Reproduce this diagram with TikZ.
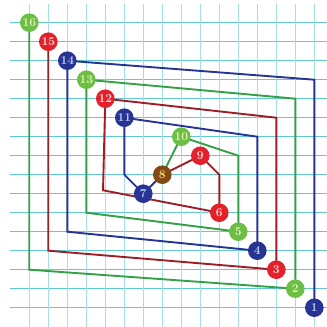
\documentclass[tikz,border=0pt]{standalone}
\usetikzlibrary{calc}
\definecolor{gridh}{RGB}{98,202,207}
\definecolor{gridv}{RGB}{165,224,230}
\definecolor{bl}{RGB}{40,52,148}
\definecolor{blt}{RGB}{190,205,240}
\definecolor{gnn}{RGB}{108,190,68}
\definecolor{gnt}{RGB}{232,242,185}
\definecolor{gnl}{RGB}{52,160,72}
\definecolor{rdn}{RGB}{228,32,42}
\definecolor{rdt}{RGB}{255,225,225}
\definecolor{rdl}{RGB}{158,30,40}
\definecolor{brn}{RGB}{130,72,22}
\definecolor{brt}{RGB}{242,222,110}
\tikzset{
  hline/.style={draw=gridh, line width=1.1pt},
  vline/.style={draw=gridv, line width=1.5pt},
  conn/.style={line width=1.9pt, line join=miter},
  num/.style={circle, inner sep=0pt, minimum size=18.6pt, font=\fontsize{12}{12}\selectfont\bfseries},
  bnode/.style={num, fill=bl, text=blt},
  gnode/.style={num, fill=gnn, text=gnt},
  rnode/.style={num, fill=rdn, text=rdt},
  knode/.style={num, fill=brn, text=brt},
}
\begin{document}
\begin{tikzpicture}[x=19pt,y=-19pt]
\useasboundingbox (-1.542,-1.195) rectangle (15.668,15.963);
\begin{scope}
\clip (-1.542,-1.195) rectangle (15.668,15.963);
\foreach \j in {0,...,15} \draw[hline] (-1,\j) -- (16.5,\j);
\foreach \i in {0,...,15} \draw[vline] (\i,-1) -- (\i,16.5);
\end{scope}
% node positions
\coordinate (p1) at (15,15);
\coordinate (p2) at (14,14);
\coordinate (p3) at (13,13);
\coordinate (p4) at (12,12);
\coordinate (p5) at (11,11);
\coordinate (p6) at (10,10);
\coordinate (p7) at (6,9);
\coordinate (p8) at (7,8);
\coordinate (p9) at (9,7);
\coordinate (p10) at (8,6);
\coordinate (p11) at (5,5);
\coordinate (p12) at (4,4);
\coordinate (p13) at (3,3);
\coordinate (p14) at (2,2);
\coordinate (p15) at (1,1);
\coordinate (p16) at (0,0);
% corners
\coordinate (c1) at (15,3);
\coordinate (c2) at (14,4);
\coordinate (c3) at (13,5);
\coordinate (c4) at (12,6);
\coordinate (c5) at (11,7);
\coordinate (c6) at (10,8);
\coordinate (d16) at (0,13);
\coordinate (d15) at (1,12);
\coordinate (d14) at (2,11);
\coordinate (d13) at (3,10);
\coordinate (d12) at (3.88,8.82);
\coordinate (d11) at (5,8);
% connectors
\draw[conn, bl] (p14) -- (c1) -- (p1);
\draw[conn, gnl] (p13) -- (c2) -- (p2);
\draw[conn, rdl] (p12) -- (c3) -- (p3);
\draw[conn, bl] (p11) -- (c4) -- (p4);
\draw[conn, gnl] (p10) -- (c5) -- (p5);
\draw[conn, rdl] (p9) -- (c6) -- (p6);
\draw[conn, gnl] (p16) -- (d16) -- (p2);
\draw[conn, rdl] (p15) -- (d15) -- (p3);
\draw[conn, bl] (p14) -- (d14) -- (p4);
\draw[conn, gnl] (p13) -- (d13) -- (p5);
\draw[conn, rdl] (p12) -- (d12) -- (p6);
\draw[conn, bl] (p11) -- (d11) -- (p7);
\draw[conn, bl] (p7) -- (p8);
\draw[conn, gnl] (p8) -- (p10);
\draw[conn, rdl] (p8) -- (p9);
% nodes
\node[bnode] (n1) at (p1) {1};
\node[gnode] (n2) at (p2) {2};
\node[rnode] (n3) at (p3) {3};
\node[bnode] (n4) at (p4) {4};
\node[gnode] (n5) at (p5) {5};
\node[rnode] (n6) at (p6) {6};
\node[bnode] (n7) at (p7) {7};
\node[knode] (n8) at (p8) {8};
\node[rnode] (n9) at (p9) {9};
\node[gnode] (n10) at (p10) {10};
\node[bnode] (n11) at (p11) {11};
\node[rnode] (n12) at (p12) {12};
\node[gnode] (n13) at (p13) {13};
\node[bnode] (n14) at (p14) {14};
\node[rnode] (n15) at (p15) {15};
\node[gnode] (n16) at (p16) {16};
\end{tikzpicture}
\end{document}
